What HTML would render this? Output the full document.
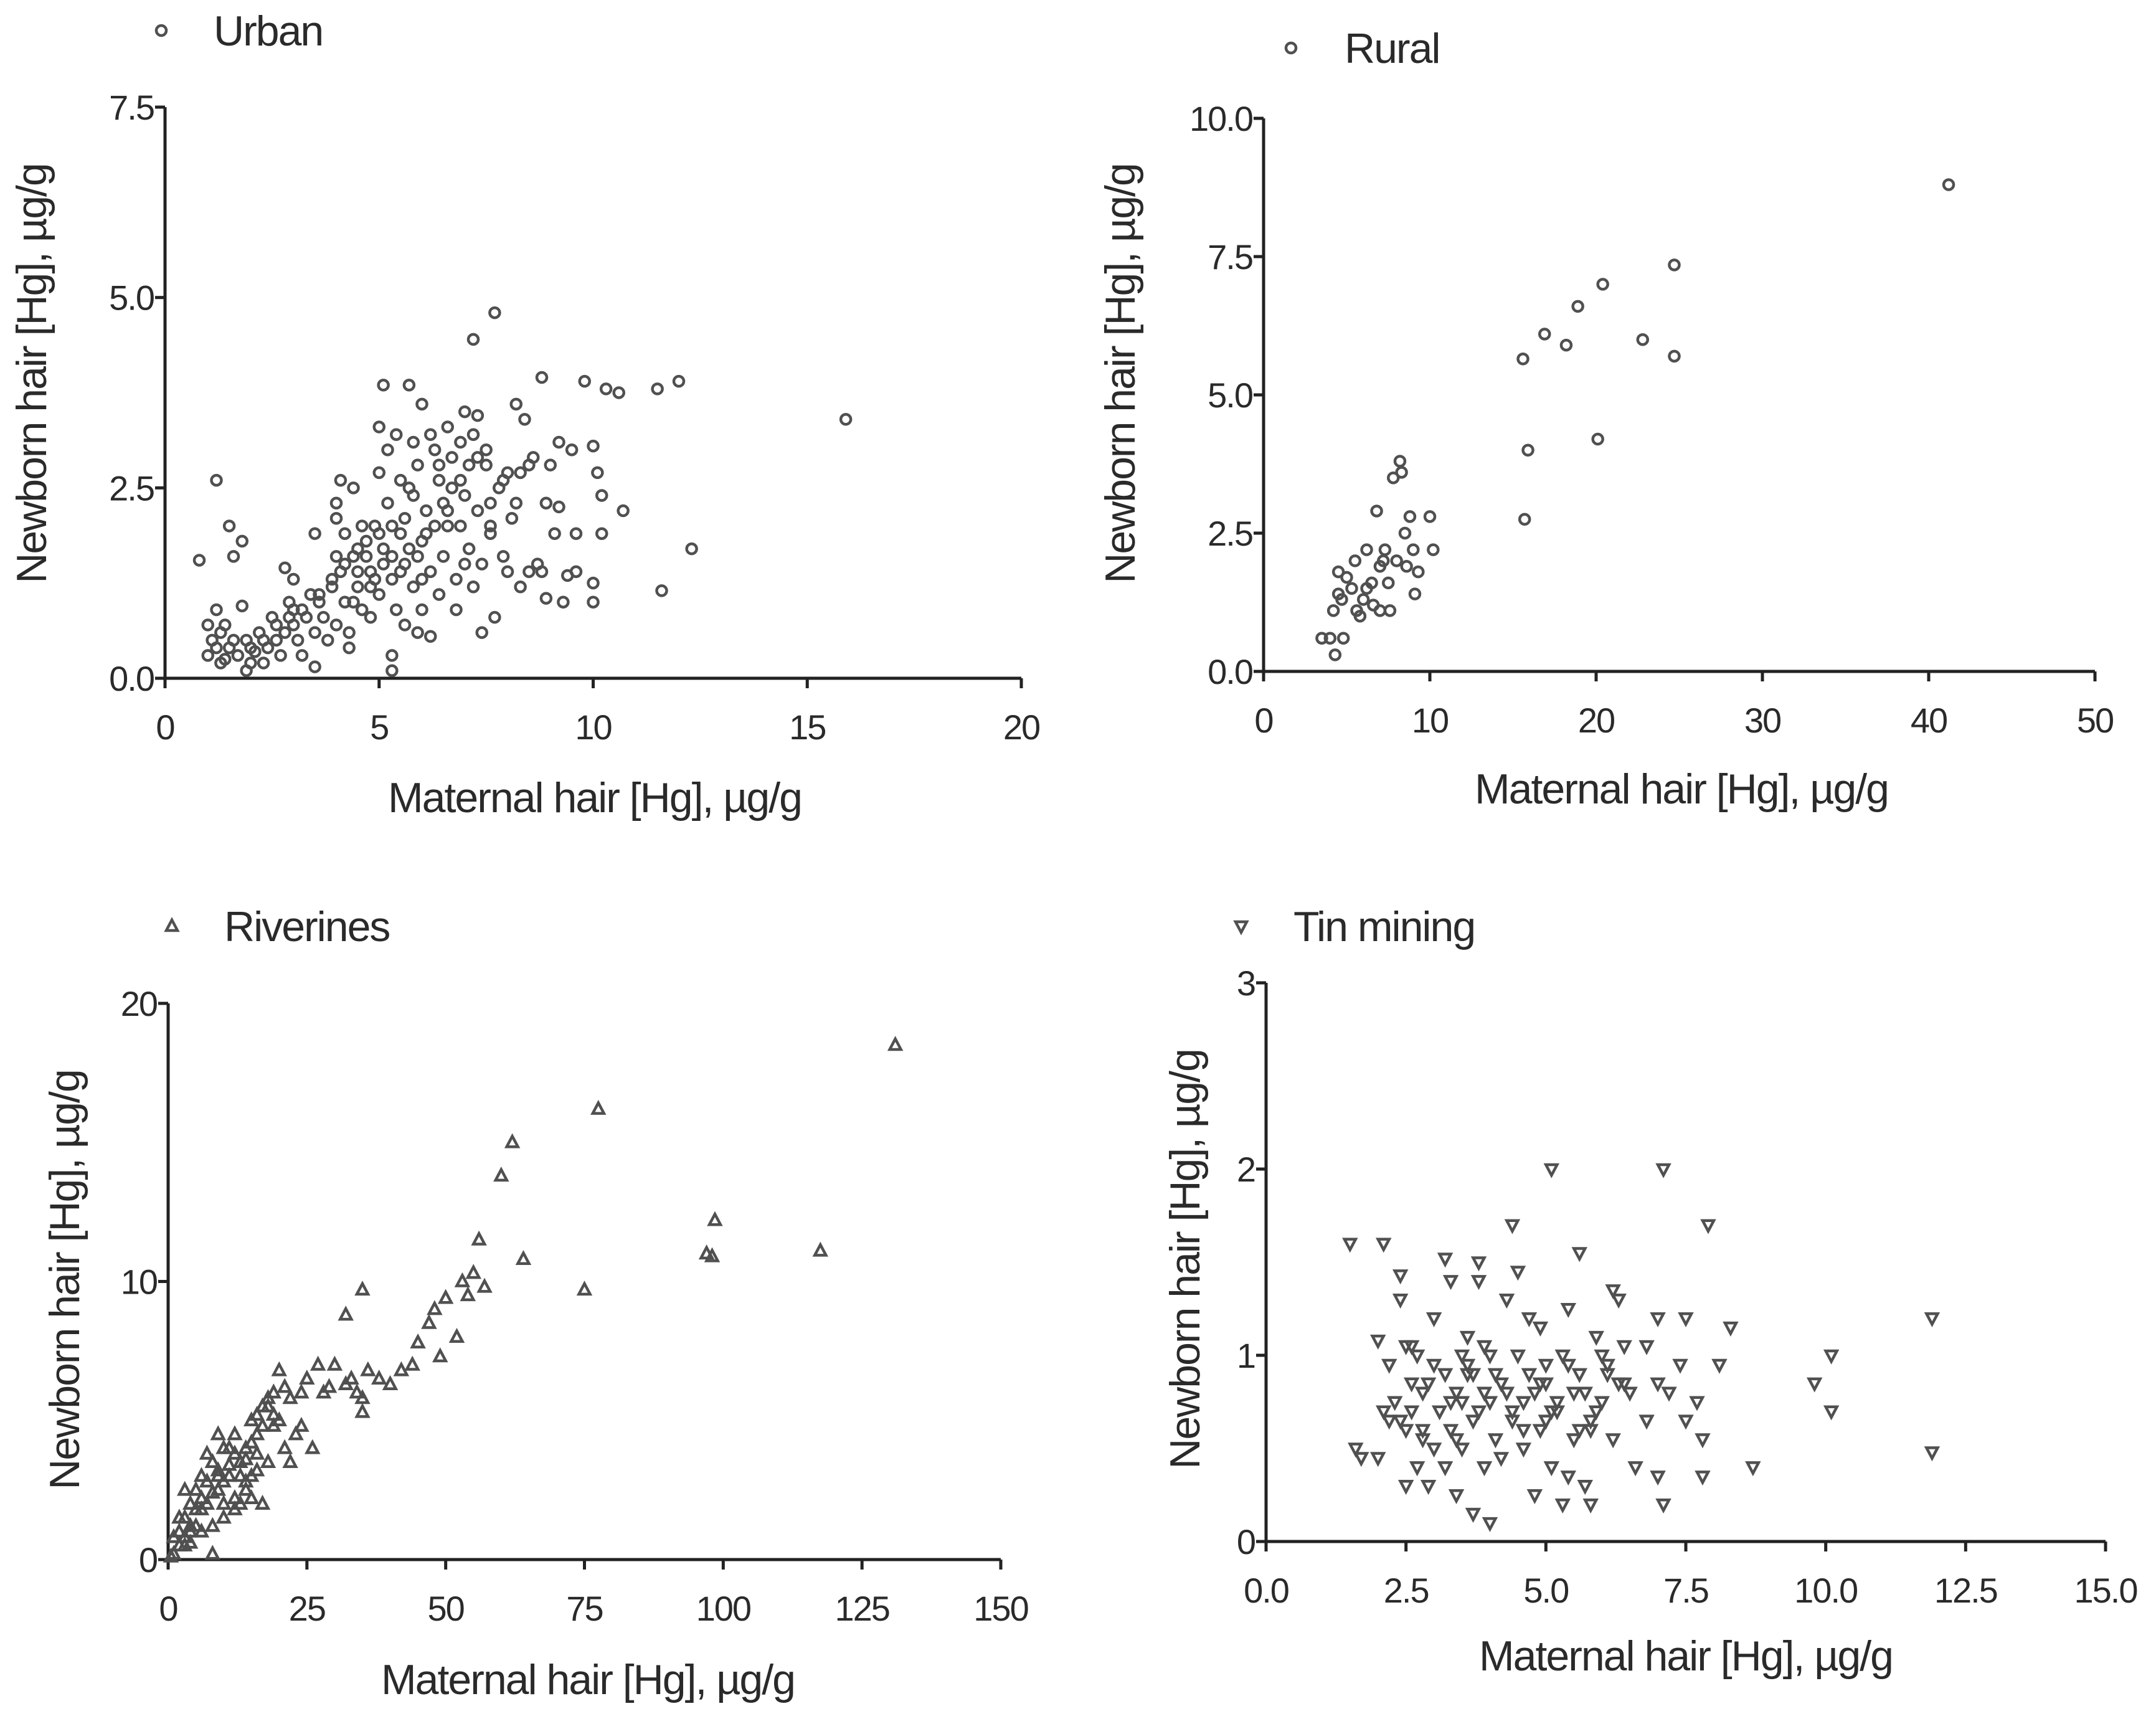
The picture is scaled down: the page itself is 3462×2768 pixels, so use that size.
<!DOCTYPE html>
<html><head><meta charset="utf-8"><style>
html,body{margin:0;padding:0;background:#fff;}
svg{display:block;}
text{font-family:"Liberation Sans",Arial,sans-serif;fill:#2a2a2a;}
</style></head><body>
<svg id="fig" width="3462" height="2768" viewBox="0 0 3462 2768" xmlns="http://www.w3.org/2000/svg"></svg>
<script>
const urbanX=[0.8,1.2,1.5,1.6,1.8,1.2,1.0,1.3,15.9,7.7,7.2,12.3,11.6,10.0,12,11.5,9.8,10.3,10.6,8.8,5.1,5.7,6.0,7.0,7.3,5.0,5.4,8.2,8.4,9.5,10.0,9.2,10.1,10.2,10.7,10.2,9.6,9.1,8.9,9.2,8.9,9.3,10.0,9.6,8.5,7.4,7.7,5.9,5.3,5.3,3.5,3.5,2.8,3.0,1.8,1.1,1.3,1.5,1.7,1.9,2.0,2.2,2.4,2.5,2.7,2.8,3.0,3.1,3.3,3.5,3.6,3.7,3.9,4.0,4.1,4.2,4.3,4.4,4.5,4.6,4.7,4.8,4.9,5.0,5.1,5.2,5.3,5.4,5.5,5.6,5.7,5.8,5.9,6.0,6.1,6.2,6.3,6.4,6.5,6.6,6.7,6.8,6.9,7.0,7.1,7.2,7.3,7.4,7.5,7.6,7.8,7.9,8.0,8.1,8.3,8.5,8.7,4.0,4.1,4.0,4.4,4.6,5.0,5.2,5.5,5.8,6.2,6.6,6.0,6.4,6.8,7.2,4.3,3.2,2.3,1.9,2.6,3.8,4.8,5.6,6.2,2.1,1.4,2.9,3.4,4.2,5.3,6.9,7.6,8.2,1.0,1.2,1.4,1.6,2.0,2.3,2.6,2.9,3.2,3.6,3.9,4.2,4.5,4.7,4.9,5.1,5.3,5.5,5.7,5.9,6.1,6.3,6.5,6.7,6.9,7.1,7.3,7.5,7.9,8.3,8.6,8.0,7.0,6.0,5.0,4.5,4.0,3.0,5.6,6.6,7.6,8.8,9.4,9.0,5.8,6.4,4.8,4.4];
const urbanY=[1.55,2.6,2.0,1.6,1.8,0.9,0.3,0.6,3.4,4.8,4.45,1.7,1.15,1.0,3.9,3.8,3.9,3.8,3.75,3.95,3.85,3.85,3.6,3.5,3.45,3.3,3.2,3.6,3.4,3.0,3.05,3.1,2.7,2.4,2.2,1.9,1.9,1.9,2.3,2.25,1.05,1.0,1.25,1.4,1.4,0.6,0.8,0.6,0.3,0.1,0.15,1.9,1.45,1.3,0.95,0.5,0.2,0.4,0.3,0.5,0.2,0.6,0.4,0.8,0.3,0.6,0.9,0.5,0.8,0.6,1.0,0.8,1.2,0.7,1.4,1.0,0.6,1.6,1.2,0.9,1.8,1.4,2.0,1.1,1.7,2.3,1.3,0.9,1.9,1.5,2.5,1.2,2.8,1.8,2.2,1.4,3.0,2.6,1.6,2.0,2.9,1.3,3.1,2.4,1.7,3.2,2.2,1.5,2.8,1.9,2.5,1.6,2.7,2.1,1.2,2.8,1.5,2.3,2.6,2.1,2.5,2.0,2.7,3.0,2.6,3.1,3.2,3.3,0.9,1.1,0.9,1.2,0.4,0.3,0.2,0.1,0.5,0.5,0.8,0.7,0.55,0.35,0.7,1.0,1.1,1.9,2.0,2.0,2.3,2.3,0.7,0.4,0.25,0.5,0.4,0.5,0.7,0.8,0.9,1.1,1.3,1.5,1.4,1.6,1.3,1.5,1.6,1.4,1.7,1.6,1.9,2.0,2.3,2.5,2.6,2.8,2.9,3.0,2.6,2.7,2.9,1.4,1.5,1.3,1.9,1.7,1.6,0.7,2.1,2.2,2.0,1.4,1.35,2.8,2.4,2.8,1.2,1.0];
const ruralX=[4,4.2,4.3,4.5,4.5,4.8,5,5.3,5.5,5.8,6,6.2,6.5,6.6,6.8,7,7,7.3,7.5,7.6,7.8,8,8.2,8.3,8.5,8.6,8.8,9,9.1,9.3,10.0,10.2,6.2,7.2,5.6,4.7,3.5,15.7,15.9,15.6,16.9,18.2,18.9,20.4,20.1,22.8,24.7,24.7,41.2];
const ruralY=[0.6,1.1,0.3,1.8,1.4,0.6,1.7,1.5,2.0,1.0,1.3,2.2,1.6,1.2,2.9,1.9,1.1,2.2,1.6,1.1,3.5,2.0,3.8,3.6,2.5,1.9,2.8,2.2,1.4,1.8,2.8,2.2,1.5,2.0,1.1,1.3,0.6,2.75,4.0,5.65,6.1,5.9,6.6,7.0,4.2,6.0,7.35,5.7,8.8];
const riverX=[1,2,3,3,4,5,5,6,7,8,8,9,10,10,11,12,12,13,14,14,15,15,16,17,17,18,19,20,20,21,22,23,24,25,27,28,29,30,32,32,33,35,35,36,38,40,42,44,45,47,48,49,50,52,53,54,55,56,57,60,62,64,75,77.5,97,98.5,98,117.5,131,2,3,4,6,7,9,11,13,16,18,19,21,22,26,1,0.5,24,2,3,4,5,6,7,8,9,10,11,12,13,14,15,16,17,18,19,6,8,10,12,14,16,4,9,15,35,34];
const riverY=[0.2,1.0,1.5,0.5,2.0,1.2,2.5,3.0,2.0,3.5,0.2,2.5,4.0,1.5,3.0,4.5,2.2,3.5,4.0,2.5,5.0,3.0,4.5,5.5,2.0,3.5,6.0,6.8,5.0,4.0,3.5,4.5,6.0,6.5,7.0,6.0,6.2,7.0,6.3,8.8,6.5,9.7,5.3,6.8,6.5,6.3,6.8,7.0,7.8,8.5,9.0,7.3,9.4,8.0,10.0,9.5,10.3,11.5,9.8,13.8,15.0,10.8,9.7,16.2,11.0,12.2,10.9,11.1,18.5,0.5,2.5,1.0,1.8,3.8,4.5,4.0,2.0,3.8,5.5,4.8,6.2,5.8,4.0,0.8,0.1,4.8,1.5,0.8,1.2,1.8,2.2,2.8,2.4,3.0,2.8,3.4,3.8,3.0,3.6,4.2,5.2,4.8,5.8,5.2,1.0,1.2,2.0,1.8,2.8,3.2,0.6,3.2,2.2,5.8,6.0];
const tinX=[1.5,2.1,2.4,2.4,1.6,1.7,2.0,2.0,2.1,2.2,2.3,2.5,2.5,2.5,2.6,2.7,2.7,2.8,2.9,3.0,3.0,3.1,3.2,3.2,3.3,3.3,3.4,3.4,3.5,3.6,3.6,3.7,3.7,3.8,3.8,3.9,3.9,4.0,4.0,4.1,4.2,4.3,4.4,4.4,4.5,4.5,4.6,4.7,4.8,4.8,4.9,5.0,5.0,5.1,5.1,5.2,5.3,5.3,5.4,5.5,5.6,5.6,5.7,5.8,5.8,5.9,6.0,6.1,6.2,6.2,6.3,6.4,6.5,6.6,6.8,6.8,7.0,7.0,7.1,7.1,7.0,7.2,7.4,7.5,7.5,7.7,7.8,7.8,7.9,8.1,8.3,8.7,9.8,10.1,10.1,11.9,11.9,3.0,3.5,4.2,4.7,5.4,6.0,2.8,3.9,4.9,5.7,6.4,2.6,3.2,2.4,2.6,2.9,3.3,3.6,3.8,4.1,4.3,4.6,4.9,5.2,5.5,5.8,6.1,6.3,3.4,3.7,4.0,4.6,5.1,5.4,5.9,2.2,2.8,3.5,4.4,5.0,5.6];
const tinY=[1.6,1.6,1.43,1.3,0.5,0.45,0.45,1.08,0.7,0.95,0.75,1.05,0.6,0.3,0.85,1.0,0.4,0.8,0.3,0.95,1.2,0.7,0.4,1.52,1.4,0.6,0.8,0.25,0.5,1.1,0.9,0.65,0.15,1.5,1.4,0.8,0.4,1.0,0.1,0.55,0.85,1.3,0.7,1.7,1.0,1.45,0.5,1.2,0.8,0.25,1.15,0.65,0.95,2.0,0.4,0.75,1.0,0.2,1.25,0.55,0.9,1.55,0.3,0.6,0.2,1.1,0.75,0.95,0.55,1.35,1.3,0.85,0.8,0.4,0.65,1.05,1.2,0.35,2.0,0.2,0.85,0.8,0.95,1.2,0.65,0.75,0.55,0.35,1.7,0.95,1.15,0.4,0.85,1.0,0.7,1.2,0.48,0.5,0.75,0.45,0.9,0.35,1.0,0.55,1.05,0.6,0.8,1.05,1.05,0.9,0.65,0.7,0.85,0.75,0.95,0.7,0.9,0.8,0.75,0.85,0.7,0.8,0.65,0.9,0.85,0.55,0.9,0.75,0.6,0.7,0.95,0.7,0.65,0.6,1.0,0.65,0.85,0.6];
const urbanXTicks=[0,5,10,15,20], urbanYTicks=["0.0","2.5","5.0","7.5"];
const ruralXTicks=[0,10,20,30,40,50], ruralYTicks=["0.0","2.5","5.0","7.5","10.0"];
const riverXTicks=[0,25,50,75,100,125,150], riverYTicks=["0","10","20"];
const tinXTicks=["0.0","2.5","5.0","7.5","10.0","12.5","15.0"], tinYTicks=["0","1","2","3"];

const NS="http://www.w3.org/2000/svg";
const svg=document.getElementById('fig');
function mk(tag,attrs,parent){const e=document.createElementNS(NS,tag);for(const k in attrs)e.setAttribute(k,attrs[k]);(parent||svg).appendChild(e);return e;}
function marker(g,shape,x,y){
  let e;
  if(shape==='circle'){e=mk('circle',{cx:x,cy:y,r:8,fill:'none',stroke:'#505050','stroke-width':4.5},g);}
  else if(shape==='up'){e=mk('polygon',{points:`${x},${y-10} ${x-9},${y+7} ${x+9},${y+7}`,fill:'none',stroke:'#505050','stroke-width':4.5},g);}
  else {e=mk('polygon',{points:`${x-9},${y-7} ${x+9},${y-7} ${x},${y+10}`,fill:'none',stroke:'#505050','stroke-width':4.5},g);}
  return e;
}
function panel(p){
  const g=mk('g',{});
  
  
  const xs=v=>p.x0+(v-p.xmin)/(p.xmax-p.xmin)*(p.x1-p.x0);
  const ys=v=>p.y0-(v-p.ymin)/(p.ymax-p.ymin)*(p.y0-p.y1);
  const ax=mk('path',{d:`M${p.x0},${p.y1} L${p.x0},${p.y0} L${p.x1},${p.y0}`,fill:'none',stroke:'#222','stroke-width':5},g);
  
  
  p.xt.forEach(t=>{const v=parseFloat(t);const x=xs(v);
    mk('line',{x1:x,y1:p.y0,x2:x,y2:p.y0+16,stroke:'#222','stroke-width':5},g);
    const tx=mk('text',{x:x,y:p.y0+98,'text-anchor':'middle','font-size':56,'letter-spacing':-2},g);tx.textContent=t;
    
    });
  p.yt.forEach(t=>{const v=parseFloat(t);const y=ys(v);
    mk('line',{x1:p.x0-16,y1:y,x2:p.x0,y2:y,stroke:'#222','stroke-width':5},g);
    const tx=mk('text',{x:p.x0-18,y:y+20,'text-anchor':'end','font-size':56,'letter-spacing':-2},g);tx.textContent=t;
    
    });
  const pts=mk('g',{},g);
  
  
  for(let i=0;i<p.dx.length;i++){const m=marker(pts,p.shape,xs(p.dx[i]),ys(p.dy[i]));
    
    }
  const yt=mk('text',{x:0,y:0,'text-anchor':'middle','font-size':68,'letter-spacing':-2,transform:`translate(${p.ytx},${p.yty}) rotate(-90)`},g);
  yt.textContent='Newborn hair [Hg],  µg/g';
  
  
  const xt=mk('text',{x:p.xtx,y:p.xty,'text-anchor':'middle','font-size':68,'letter-spacing':-2},g);
  xt.textContent='Maternal hair [Hg],  µg/g';
  
  
  const lg=mk('g',{},g);
  
  
  marker(lg,p.shape,p.lmx,p.lmy);
  const lt=mk('text',{x:p.ltx,y:p.lmy+24,'font-size':68,'letter-spacing':-2},lg);lt.textContent=p.label;
}
panel({id:'urban',label:'Urban',shape:'circle',dx:urbanX,dy:urbanY,xt:urbanXTicks.map(String),yt:urbanYTicks,xmin:0,xmax:20,ymin:0,ymax:7.5,x0:265,x1:1640,y0:1089,y1:172,ytx:74,yty:600,xtx:955,xty:1304,lmx:259,lmy:49,ltx:343});
panel({id:'rural',label:'Rural',shape:'circle',dx:ruralX,dy:ruralY,xt:ruralXTicks.map(String),yt:ruralYTicks,xmin:0,xmax:50,ymin:0,ymax:10,x0:2029,x1:3364,y0:1078,y1:190,ytx:1822,yty:600,xtx:2700,xty:1290,lmx:2073,lmy:77,ltx:2159});
panel({id:'riverines',label:'Riverines',shape:'up',dx:riverX,dy:riverY,xt:riverXTicks.map(String),yt:riverYTicks,xmin:0,xmax:150,ymin:0,ymax:20,x0:270,x1:1607,y0:2504,y1:1611,ytx:127,yty:2055,xtx:944,xty:2720,lmx:276,lmy:1487,ltx:360});
panel({id:'tin-mining',label:'Tin mining',shape:'down',dx:tinX,dy:tinY,xt:tinXTicks,yt:tinYTicks,xmin:0,xmax:15,ymin:0,ymax:3,x0:2033,x1:3381,y0:2475,y1:1578,ytx:1926,yty:2022,xtx:2707,xty:2682,lmx:1993,lmy:1487,ltx:2077});
</script>
</body></html>
